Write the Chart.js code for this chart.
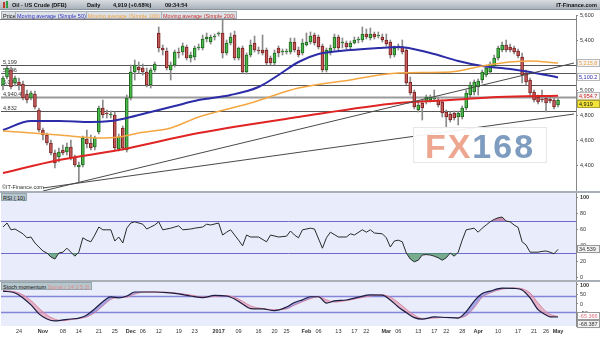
<!DOCTYPE html>
<html>
<head>
<meta charset="utf-8">
<title>Oil - US Crude (DFB) Daily</title>
<script src="https://cdn.jsdelivr.net/npm/chart.js@4.4.1/dist/chart.umd.min.js"></script>
<style>
  html, body { margin: 0; padding: 0; background: #fff; }
  #wrap { position: relative; width: 600px; height: 337px; overflow: hidden; font-family: "Liberation Sans", Arial, sans-serif; }
  canvas { position: absolute; left: 0; }
  #mainChart { top: 9px; }
  #rsiChart { top: 186px; }
  #stochChart { top: 275px; }
  #titlebar { position: absolute; left: 0; top: 0; width: 600px; height: 10px; background: linear-gradient(#d9dde1, #a9b1b9); border-bottom: 1px solid #8a939b; box-sizing: border-box; }
  #titlebar b { position: absolute; top: 1px; font-size: 5.6px; line-height: 8px; color: #111; white-space: nowrap; }
  #titlebar .ic { position: absolute; top: 2px; width: 2px; height: 6px; }
  .leg { position: absolute; top: 10.5px; height: 8px; line-height: 8px; font-size: 5.5px; padding: 0 1px; background: #dde2e6; border: 1px solid #a7b0b8; box-sizing: border-box; white-space: nowrap; }
  .hline { position: absolute; left: 0; height: 0; }
  .tag { position: absolute; font-size: 5.5px; line-height: 7px; white-space: nowrap; }
  .ptag { position: absolute; left: 1px; height: 8px; line-height: 8px; font-size: 5.5px; padding: 0 1px; background: #b6c6cd; border: 1px solid #93a5ad; box-sizing: border-box; white-space: nowrap; color: #111; }
  #fx { position: absolute; left: 413px; top: 127px; width: 134px; height: 36px; background: rgba(255,255,255,0.92); border: 1px solid #e6e6e6; box-sizing: border-box; text-align: center; font: bold 34px "Liberation Sans", Arial, sans-serif; line-height: 36px; letter-spacing: 2px; }
</style>
</head>
<body>
<div id="wrap">
  <canvas id="mainChart" width="600" height="189"></canvas>
  <canvas id="rsiChart" width="600" height="101"></canvas>
  <canvas id="stochChart" width="600" height="62"></canvas>

  <div id="titlebar">
    <span class="ic" style="left:3px;background:#c0392b"></span>
    <span class="ic" style="left:6px;top:1px;height:7px;background:#2e9e3e"></span>
    <b style="left:12px">Oil - US Crude (DFB)</b>
    <b style="left:87px">Daily</b>
    <b style="left:113px">4,919 (+0.68%)</b>
    <b style="left:165px">09:34:54</b>
    <b style="right:3px">IT-Finance.com</b>
  </div>

  <div class="leg" style="left:1px;color:#111">Price</div>
  <div class="leg" style="left:15px;color:#2f2fc0">Moving average (Simple 50)</div>
  <div class="leg" style="left:86px;color:#f0a040">Moving average (Simple 100)</div>
  <div class="leg" style="left:161px;color:#c83030">Moving average (Simple 200)</div>

  <div class="hline" style="top:19px;width:577px;border-top:1px solid #777"></div>
  <div class="hline" style="top:191px;width:600px;border-top:2px solid #a9afb6"></div>
  <div class="hline" style="top:280px;width:600px;border-top:2px solid #a9afb6"></div>

  <div class="tag" style="left:2px;top:184px;color:#333">&copy;IT-Finance.com</div>
  <div class="ptag" style="top:193px">RSI ( 10)</div>
  <div class="ptag" style="top:282px">Stoch momentum <span style="color:#e08a8a">Signal ( 14 3 5 3)</span></div>

  <div id="fx"><span style="color:#eda690">FX</span><span style="color:#7e9cbf">168</span></div>
</div>

<script>
const FONT = '"Liberation Sans", Arial, sans-serif';

// --- Data: daily candles, 18 Oct 2016 .. 1 May 2017 (one per weekday) ---
const opens = [
  5040,5104,5160,5056,5064,5048,4968,4936,4968,4840,4680,4640,4576,4496,4464,4520,4504,4544,4464,4384,
  4400,4608,4576,4544,4664,4856,4816,4800,4800,4528,4696,4520,4936,5144,5184,5176,5144,5040,5160,5456,
  5336,5312,5160,5200,5304,5304,5344,5256,5264,5336,5336,5408,5384,5424,5448,5456,5296,5376,5440,5256,
  5336,5144,5280,5376,5320,5320,5320,5256,5216,5336,5304,5304,5304,5384,5320,5296,5360,5384,5440,5424,
  5352,5160,5296,5336,5424,5376,5376,5344,5376,5400,5400,5448,5416,5448,5432,5424,5400,5384,5280,5336,
  5344,5320,5064,4984,4840,4896,4904,4920,4928,4920,4904,4824,4808,4816,4784,4784,4856,4960,4984,5024,
  5080,5120,5144,5192,5256,5320,5360,5344,5336,5312,5264,5136,5080,4984,4944,4928,4936,4928,4920,4880
];
const highs = [
  5112,5192,5184,5112,5096,5072,5000,4992,4992,4856,4696,4656,4600,4520,4536,4560,4576,4600,4480,4424,
  4632,4680,4640,4632,4872,4920,4840,4832,4824,4648,4712,4960,5200,5240,5224,5208,5176,5176,5224,5504,
  5360,5336,5224,5320,5336,5376,5360,5304,5352,5368,5440,5456,5440,5448,5464,5560,5400,5456,5472,5344,
  5352,5296,5400,5432,5344,5440,5336,5272,5320,5352,5328,5328,5416,5416,5344,5408,5456,5464,5456,5440,
  5368,5336,5360,5448,5440,5416,5392,5392,5424,5424,5504,5488,5496,5464,5464,5448,5448,5400,5352,5368,
  5400,5336,5104,5000,4904,4920,4960,4960,5000,4936,4920,4840,4824,4832,4832,4872,5000,5064,5080,5088,
  5160,5200,5224,5280,5352,5384,5400,5368,5352,5328,5296,5160,5096,5000,4960,5000,4952,4944,4936,4930
];
const lows = [
  5000,5088,5008,5032,5000,4920,4896,4920,4848,4664,4600,4560,4480,4376,4424,4480,4480,4440,4384,4264,
  4384,4536,4520,4520,4648,4776,4776,4776,4520,4512,4520,4504,4920,5080,5136,5120,5024,5016,5144,5304,
  5280,5160,5080,5184,5256,5280,5240,5224,5240,5320,5320,5384,5368,5400,5432,5256,5280,5360,5240,5240,
  5136,5128,5264,5304,5288,5280,5200,5200,5200,5264,5280,5288,5288,5304,5264,5280,5352,5368,5360,5328,
  5144,5144,5280,5320,5320,5336,5328,5328,5368,5376,5384,5408,5400,5408,5416,5384,5352,5256,5264,5320,
  5288,5040,4960,4848,4824,4760,4888,4904,4912,4864,4784,4704,4744,4760,4720,4768,4840,4944,4960,4960,
  5056,5104,5128,5176,5240,5304,5304,5304,5288,5256,5056,5040,4960,4904,4888,4904,4824,4896,4848,4864
];
const closes = [
  5096,5176,5024,5096,5040,4936,4920,4976,4864,4680,4640,4576,4496,4416,4504,4496,4544,4456,4400,4400,
  4616,4568,4536,4616,4856,4800,4808,4808,4536,4624,4536,4936,5144,5200,5160,5144,5040,5160,5208,5336,
  5320,5176,5200,5304,5296,5352,5256,5280,5336,5344,5408,5424,5424,5432,5456,5296,5376,5424,5256,5336,
  5144,5280,5360,5320,5312,5296,5216,5216,5296,5296,5304,5312,5384,5320,5280,5376,5384,5432,5376,5344,
  5160,5320,5336,5424,5336,5384,5344,5376,5400,5400,5448,5424,5448,5424,5432,5400,5368,5280,5336,5352,
  5304,5056,4976,4864,4880,4856,4944,4944,4928,4880,4816,4784,4760,4776,4816,4856,4976,5040,5064,5072,
  5144,5176,5208,5256,5336,5360,5320,5320,5304,5272,5120,5064,4976,4920,4904,4920,4896,4912,4864,4919
];

// moving averages as [candle index, value]
const ma50Pts = [[0,4680],[7,4752],[14,4752],[22,4744],[27,4752],[31,4776],[37,4824],[43,4872],[49,4920],
  [57,4960],[64,5024],[69,5120],[74,5224],[79,5288],[87,5320],[94,5336],[99,5344],[107,5296],[114,5232],
  [120,5192],[127,5168],[132,5144],[139,5100.2]];
const ma100Pts = [[0,4672],[14,4640],[24,4616],[29,4624],[34,4656],[42,4696],[49,4784],[62,4896],[74,5016],
  [87,5080],[99,5136],[112,5144],[120,5192],[127,5224],[132,5232],[139,5215.8]];
const ma200Pts = [[0,4336],[14,4440],[29,4520],[49,4656],[74,4784],[99,4896],[112,4920],[124,4944],[139,4954.7]];

// trend lines [index, value]
const trendUpper = [[10,4192],[143,5216]];
const trendLower = [[10,4216],[143,4808]];

// horizontal levels
const levelValues = [5199, 5136, 5042, 4940.49, 4832];
const levelLabels = ['5,199', '5,136', '5,042', '4,940.49', '4,832'];

// axis ticks
const priceTicks = [4400, 4600, 4800, 5000, 5200, 5400, 5600];
const rsiTicks = [0, 20, 40, 60, 80, 100];
const stochTicks = [-100, -50, 0, 50, 100];

// RSI (10) as [index, value]
const rsiPts = [[0,62.5],[1,67.5],[2,59],[3,60],[5,54],[6,49],[7,50],[8,42.5],[10,32.5],[11,30],[12,25],[13,22.5],
  [14,30],[15,31],[16,36],[17,31],[18,26],[19,31],[20,49],[21,46],[22,44],[23,52.5],[24,62.5],[25,59],[26,59],
  [27,59],[28,45],[29,50],[30,42.5],[31,61],[32,67.5],[33,69],[35,66],[36,60],[37,62.5],[38,65],[39,69],[40,59],
  [42,61],[43,62.5],[44,64],[45,59],[47,60],[48,61],[50,62.5],[51,66],[52,65],[54,67.5],[55,52.5],[56,56],[57,59],
  [59,46],[60,39],[61,52.5],[62,50],[64,50],[66,44],[67,52.5],[69,50],[71,51],[72,57.5],[73,52.5],[74,49],[75,59],
  [77,61],[78,60],[80,36],[81,49],[82,56],[84,50],[86,50],[87,54],[88,52.5],[90,59],[91,56],[92,59],[93,55],[95,54],
  [96,49],[97,37.5],[98,45],[99,46],[100,44],[101,30],[102,22.5],[103,19],[104,21],[105,27.5],[106,28],[107,27.5],
  [108,26],[109,24],[110,21],[111,24],[112,30],[113,26],[114,31],[115,46],[116,59],[117,60],[118,61],[119,56],
  [120,61],[121,65],[122,69],[123,72],[124,74],[125,75],[126,70],[127,69],[128,65],[129,62],[130,44],[131,40],
  [132,31],[133,31],[134,31],[135,32],[136,32.5],[137,31],[138,29],[139,34.539]];

// Stoch momentum: main and signal read at the same candle indices
const stochIdx = [0,3,5,7,9,11,13,15,17,19,21,23,25,27,29,31,33,35,38,41,44,47,50,53,56,58,60,62,65,68,71,73,75,
  77,79,81,83,86,89,92,95,97,99,101,103,105,108,111,114,116,118,120,122,125,128,130,132,134,136,137,139];
const stochMain = [68,58,32,-5,-52,-79,-89,-84,-79,-74,-58,-25,12,37,32,42,63,63,63,60,53,42,33,45,42,26,0,-24,
  -26,-35,-16,8,22,38,38,5,16,21,36,48,47,21,-16,-45,-72,-80,-68,-71,-74,-40,15,55,68,84,82,74,32,-30,-58,-68,-68.387];
const stochSignal = [70,64,48,18,-22,-58,-80,-88,-82,-76,-68,-45,-10,24,34,36,52,62,63,62,56,47,37,40,44,35,14,-10,
  -24,-30,-26,-6,12,28,38,22,10,18,30,42,48,36,8,-28,-58,-76,-74,-70,-72,-62,-20,35,58,78,84,80,58,5,-40,-55,-65.366];

// date axis labels [index, text]
const xTickLabels = [[4,'24'],[10,'Nov'],[15,'08'],[19,'14'],[24,'21'],[28,'25'],[32,'Dec'],[35,'06'],[39,'12'],
  [44,'19'],[48,'23'],[54,'2017'],[59,'09'],[64,'16'],[68,'20'],[71,'25'],[76,'Feb'],[79,'06'],[84,'13'],[88,'17'],
  [91,'22'],[96,'Mar'],[99,'06'],[104,'13'],[108,'17'],[111,'22'],[115,'28'],[119,'Apr'],[124,'10'],[129,'17'],
  [133,'21'],[136,'26'],[139,'May']];
const boldTicks = ['Nov', 'Dec', '2017', 'Feb', 'Mar', 'Apr', 'May'];

// --- Categories: weekdays from 18 Oct 2016, with 4 empty slots on the right ---
const N_SLOTS = 144;
const dates = [];
for (let d = new Date(Date.UTC(2016, 9, 18)); dates.length < N_SLOTS; d.setUTCDate(d.getUTCDate() + 1)) {
  const wd = d.getUTCDay();
  if (wd !== 0 && wd !== 6) dates.push(d.toISOString().slice(0, 10));
}
const xTickMap = {};
xTickLabels.forEach(([i, t]) => { xTickMap[i] = t; });

function sparse(pts) {
  const arr = new Array(N_SLOTS).fill(null);
  pts.forEach(([i, v]) => { arr[i] = v; });
  return arr;
}
function sparseFrom(idx, vals) {
  return sparse(idx.map((i, k) => [i, vals[k]]));
}

// --- Plugins ---
const panelBg = {
  id: 'panelBg',
  beforeDraw(chart, args, opts) {
    const { ctx, chartArea: a, width, height } = chart;
    ctx.save();
    ctx.fillStyle = '#fff';
    ctx.fillRect(0, a.top, width, height - a.top);
    ctx.fillStyle = opts.color;
    ctx.fillRect(a.left, a.top, a.width, a.height);
    ctx.restore();
  }
};

const levelLines = {
  id: 'levelLines',
  beforeDatasetsDraw(chart, args, opts) {
    const { ctx, chartArea: a, scales: { y } } = chart;
    ctx.save();
    opts.lines.forEach(l => {
      const py = Math.round(y.getPixelForValue(l.value)) + 0.5;
      ctx.strokeStyle = l.color;
      ctx.lineWidth = l.width;
      ctx.beginPath();
      ctx.moveTo(a.left, py);
      ctx.lineTo(a.right, py);
      ctx.stroke();
      if (l.label) {
        ctx.fillStyle = '#333';
        ctx.font = '5.5px ' + FONT;
        ctx.textBaseline = 'bottom';
        ctx.fillText(l.label, a.left + 2, py - 0.5);
      }
    });
    ctx.restore();
  }
};

const valueBoxes = {
  id: 'valueBoxes',
  afterDraw(chart, args, opts) {
    const { ctx, chartArea: a, scales: { y } } = chart;
    let prev = -Infinity;
    ctx.save();
    ctx.font = '5.5px ' + FONT;
    ctx.textBaseline = 'middle';
    opts.boxes.forEach(b => {
      let py = y.getPixelForValue(b.value);
      if (py < prev + 8) py = prev + 8;
      prev = py;
      ctx.fillStyle = b.bg;
      ctx.fillRect(a.right + 1, py - 4, 23, 8);
      ctx.strokeStyle = b.border;
      ctx.lineWidth = 1;
      ctx.strokeRect(a.right + 1.5, Math.round(py - 4) + 0.5, 22, 7);
      ctx.fillStyle = b.color;
      ctx.fillText(b.text, a.right + 3, py + 0.5);
    });
    ctx.restore();
  }
};

function rightAxis(min, max, tickValues, fmt) {
  return {
    position: 'right',
    min: min,
    max: max,
    afterBuildTicks(s) { s.ticks = tickValues.map(v => ({ value: v })); },
    ticks: {
      padding: 2,
      color: '#333',
      font: ctx => ({ size: 5.5, family: FONT, weight: ctx.tick && ctx.tick.value === 100 ? 'bold' : 'normal' }),
      callback: fmt
    },
    grid: { drawOnChartArea: false, tickLength: 2, color: '#888' },
    border: { color: '#888' },
    afterFit(s) { s.width = 24; }
  };
}

const baseOptions = {
  responsive: false,
  animation: false,
  events: [],
  plugins: { legend: { display: false }, tooltip: { enabled: false } }
};

// --- Main price panel ---
function renderMain() {
  const bodies = opens.map((o, i) => [o, closes[i]]);
  const wicks = lows.map((l, i) => [l, highs[i]]);
  const up = opens.map((o, i) => closes[i] >= o);

  const lineSet = (data, color, width, smooth) => ({
    type: 'line', data: data, borderColor: color, borderWidth: width, pointRadius: 0,
    spanGaps: true, fill: false, order: 1, cubicInterpolationMode: smooth ? 'monotone' : 'default', tension: 0
  });

  new Chart(document.getElementById('mainChart'), {
    type: 'bar',
    data: {
      labels: dates,
      datasets: [
        lineSet(sparse(trendUpper), '#4a4a4a', 1, false),
        lineSet(sparse(trendLower), '#4a4a4a', 1, false),
        lineSet(sparse(ma200Pts), '#e02424', 2, true),
        lineSet(sparse(ma100Pts), '#f4a640', 1.5, true),
        lineSet(sparse(ma50Pts), '#2c2ca8', 2, true),
        {
          type: 'bar', data: bodies, order: 2, grouped: false, barThickness: 3, minBarLength: 1,
          backgroundColor: up.map(u => u ? '#4cb84c' : '#c45a5a'),
          borderColor: up.map(u => u ? '#1f6a1f' : '#7a2222'),
          borderWidth: 1, borderSkipped: false
        },
        { type: 'bar', data: wicks, order: 3, grouped: false, barThickness: 1, backgroundColor: '#8a8a8a' }
      ]
    },
    options: {
      ...baseOptions,
      layout: { padding: { left: 1, top: 6, bottom: 6, right: 0 } },
      scales: {
        x: { type: 'category', offset: true, display: false },
        y: rightAxis(4184, 5600, priceTicks, v => v === 5200 ? '' : v.toLocaleString('en-US'))
      },
      plugins: {
        ...baseOptions.plugins,
        panelBg: { color: '#fff' },
        levelLines: {
          lines: levelValues.map((v, i) => ({
            value: v, label: levelLabels[i],
            color: v === 4940.49 ? '#9a9a9a' : '#555', width: v === 4940.49 ? 2 : 1
          }))
        },
        valueBoxes: {
          boxes: [
            { value: 5215.8, text: '5,215.8', color: '#f0a040', bg: '#f4f4f4', border: '#b8b8b8' },
            { value: 5100.2, text: '5,100.2', color: '#2c2ca8', bg: '#fff', border: '#b8b8b8' },
            { value: 4954.7, text: '4,954.7', color: '#d02020', bg: '#f4f4f4', border: '#b8b8b8' },
            { value: 4919, text: '4,919', color: '#111', bg: '#f3e43c', border: '#b0a030' }
          ]
        }
      }
    },
    plugins: [panelBg, levelLines, valueBoxes]
  });
}

// --- RSI panel ---
function renderRsi() {
  const rsi = sparse(rsiPts);
  new Chart(document.getElementById('rsiChart'), {
    type: 'line',
    data: {
      labels: dates,
      datasets: [
        { data: rsi, borderColor: '#2a2a2a', borderWidth: 1, pointRadius: 0, spanGaps: true, fill: false, tension: 0 },
        { data: rsi, borderWidth: 0, pointRadius: 0, spanGaps: true, tension: 0,
          fill: { target: { value: 30 }, above: 'rgba(0,0,0,0)', below: 'rgba(80,150,105,0.75)' } },
        { data: rsi, borderWidth: 0, pointRadius: 0, spanGaps: true, tension: 0,
          fill: { target: { value: 70 }, above: 'rgba(185,110,150,0.75)', below: 'rgba(0,0,0,0)' } }
      ]
    },
    options: {
      ...baseOptions,
      layout: { padding: { left: 1, top: 6, bottom: 6, right: 0 } },
      scales: {
        x: { type: 'category', offset: true, display: false },
        y: rightAxis(-5, 106.25, rsiTicks, v => String(v))
      },
      plugins: {
        ...baseOptions.plugins,
        panelBg: { color: '#e9edfb' },
        levelLines: { lines: [{ value: 70, color: '#6c6cc8', width: 1 }, { value: 30, color: '#6c6cc8', width: 1 }] },
        valueBoxes: { boxes: [{ value: 34.539, text: '34.539', color: '#333', bg: '#f2f2f2', border: '#999' }] }
      }
    },
    plugins: [panelBg, levelLines, valueBoxes]
  });
}

// --- Stoch momentum panel ---
function renderStoch() {
  new Chart(document.getElementById('stochChart'), {
    type: 'line',
    data: {
      labels: dates,
      datasets: [
        { data: sparseFrom(stochIdx, stochMain), borderColor: '#1c1c40', borderWidth: 1.2, pointRadius: 0,
          spanGaps: true, cubicInterpolationMode: 'monotone',
          fill: { target: '+1', above: 'rgba(95,95,205,0.5)', below: 'rgba(225,140,165,0.6)' } },
        { data: sparseFrom(stochIdx, stochSignal), borderColor: '#e48a9c', borderWidth: 1, pointRadius: 0,
          spanGaps: true, cubicInterpolationMode: 'monotone', fill: false }
      ]
    },
    options: {
      ...baseOptions,
      layout: { padding: { left: 1, top: 6, bottom: 0, right: 0 } },
      scales: {
        x: {
          type: 'category', offset: true,
          grid: { display: false, drawTicks: false, tickLength: 0 },
          border: { display: false },
          ticks: {
            autoSkip: false, maxRotation: 0, minRotation: 0, padding: 2, color: '#333',
            font: ctx => ({ size: 5.5, family: FONT, weight: boldTicks.includes(xTickMap[ctx.index]) ? 'bold' : 'normal' }),
            callback: (v, i) => xTickMap[i] || ''
          },
          afterFit(s) { s.height = 11; }
        },
        y: rightAxis(-115.8, 121, stochTicks, v => String(v))
      },
      plugins: {
        ...baseOptions.plugins,
        panelBg: { color: '#e9edfb' },
        levelLines: { lines: [{ value: 40, color: '#8484d8', width: 1.5 }, { value: -40, color: '#8484d8', width: 1.5 }] },
        valueBoxes: {
          boxes: [
            { value: -65.366, text: '-65.366', color: '#e07080', bg: '#fff', border: '#999' },
            { value: -68.387, text: '-68.387', color: '#333', bg: '#f2f2f2', border: '#999' }
          ]
        }
      }
    },
    plugins: [panelBg, levelLines, valueBoxes]
  });
}

renderMain();
renderRsi();
renderStoch();
</script>
</body>
</html>
